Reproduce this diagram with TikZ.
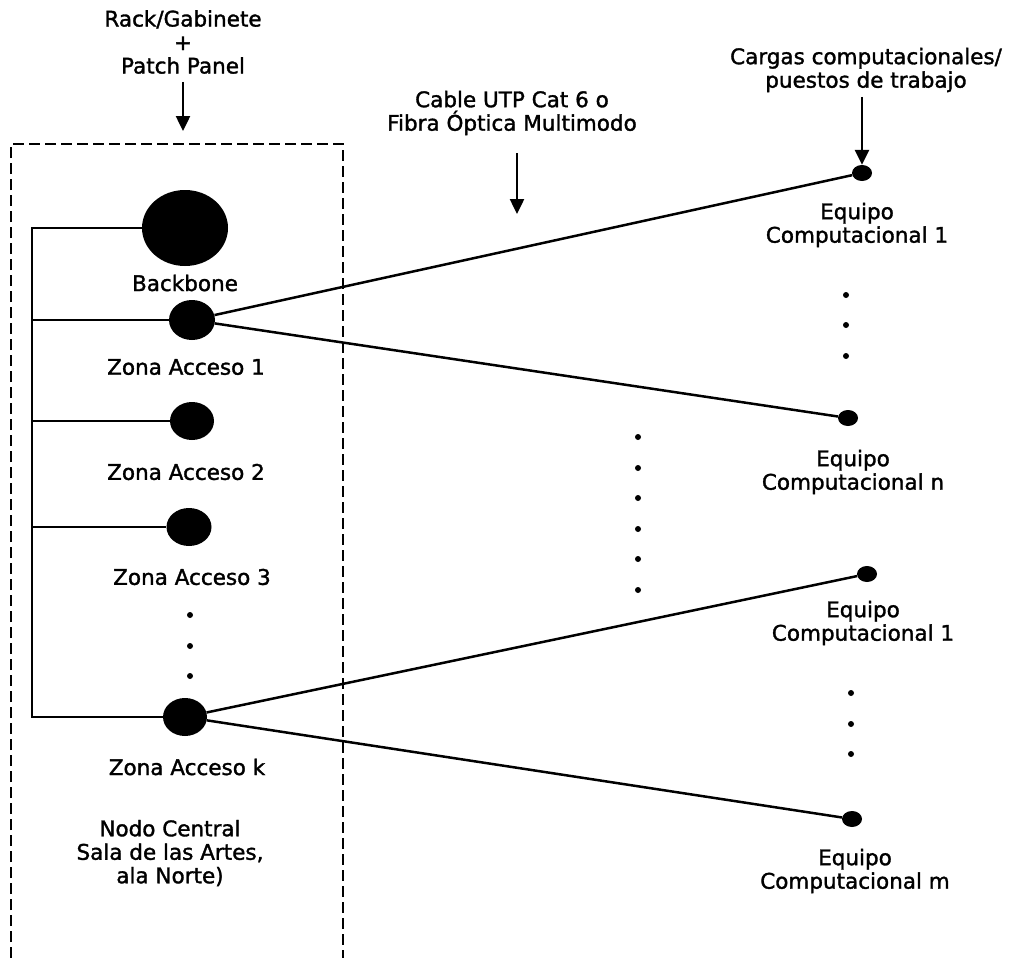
\documentclass[tikz,border=0pt]{standalone}
\usepackage{fontspec}
\setmainfont{DejaVu Sans}[FakeBold=1.5]
\usetikzlibrary{shapes.geometric,arrows.meta}
\begin{document}
\begin{tikzpicture}[x=1pt,y=-1pt,
  lbl/.style={align=center,inner sep=0pt,font=\fontsize{21.5}{23.5}\selectfont},
  wire/.style={line width=2.5pt},
  ptr/.style={line width=2.5pt,-{Triangle[width=14pt,length=15pt]}},
  hub/.style={ellipse,fill=black,draw=none,inner sep=0pt},
  pc/.style={ellipse,fill=black,draw=none,inner sep=0pt,minimum width=20pt,minimum height=16pt},
  dotmark/.style={circle,fill=black,draw=none,inner sep=0pt,minimum size=6pt},
  frame/.style={line width=2.2pt,dash pattern=on 11pt off 5pt}]
\useasboundingbox (0,0) rectangle (1010,958);

% top-left label and arrow
\node[lbl] (rack) at (183,42) {Rack/Gabinete\\+\\Patch Panel};
\coordinate (racktop) at (183,82);
\coordinate (racktip) at (183,131);
\draw[ptr] (racktop) -- (racktip);

% dashed frame
\coordinate (f1) at (11,958);
\coordinate (f2) at (11,144);
\coordinate (f3) at (343,144);
\coordinate (f4) at (343,958);
\draw[frame] (f1) -- (f2) -- (f3) -- (f4);

% hubs
\node[hub,minimum width=86pt,minimum height=76pt] (bb) at (185,228) {};
\node[hub,minimum width=46pt,minimum height=40pt] (za1) at (192,320) {};
\node[hub,minimum width=44pt,minimum height=38pt] (za2) at (192,421) {};
\node[hub,minimum width=45pt,minimum height=38pt] (za3) at (189,527) {};
\node[hub,minimum width=44pt,minimum height=38pt] (zak) at (185,717) {};

% bus
\coordinate (btop) at (32,228);
\coordinate (b1) at (32,320);
\coordinate (b2) at (32,421);
\coordinate (b3) at (32,527);
\coordinate (bk) at (32,717);
\draw[wire] (bb.west) -- (btop) -- (bk) -- (zak.west);
\draw[wire] (b1) -- (za1.west);
\draw[wire] (b2) -- (za2.west);
\draw[wire] (b3) -- (za3.west);

% left labels
\node[lbl] (lbb) at (185,283) {Backbone};
\node[lbl] (lza1) at (186,367) {Zona Acceso 1};
\node[lbl] (lza2) at (186,472) {Zona Acceso 2};
\node[lbl] (lza3) at (192,577) {Zona Acceso 3};
\node[lbl] (lzak) at (187,767) {Zona Acceso k};
\node[lbl] (lnodo) at (170,853) {Nodo Central\\Sala de las Artes,\\ala Norte)};

% left dots
\node[dotmark] (ld1) at (190,615) {};
\node[dotmark] (ld2) at (190,646) {};
\node[dotmark] (ld3) at (190,676) {};

% cable label
\node[lbl] (cable) at (512,113) {Cable UTP Cat 6 o\\Fibra Óptica Multimodo};
\coordinate (cabletop) at (517,153);
\coordinate (cabletip) at (517,214);
\draw[ptr] (cabletop) -- (cabletip);

% cargas label
\node[lbl] (cargas) at (866,70) {Cargas computacionales/\\puestos de trabajo};

% computers
\node[pc] (eq1) at (862,173) {};
\node[pc] (eqn) at (848,418) {};
\node[pc] (eq1b) at (867,574) {};
\node[pc] (eqm) at (852,819) {};
\coordinate (cargastop) at (862,97);
\draw[ptr] (cargastop) -- (eq1.north);

\node[lbl] (leq1) at (857,225) {Equipo\\Computacional 1};
\node[lbl] (leqn) at (853,472) {Equipo\\Computacional n};
\node[lbl] (leq1b) at (863,623) {Equipo\\Computacional 1};
\node[lbl] (leqm) at (855,871) {Equipo\\Computacional m};

% right dots
\node[dotmark] (r1) at (846,295) {};
\node[dotmark] (r2) at (846,325) {};
\node[dotmark] (r3) at (846,356) {};
\node[dotmark] (s1) at (851,693) {};
\node[dotmark] (s2) at (851,724) {};
\node[dotmark] (s3) at (851,754) {};

% middle dots
\node[dotmark] (m1) at (638,437) {};
\node[dotmark] (m2) at (638,468) {};
\node[dotmark] (m3) at (638,498) {};
\node[dotmark] (m4) at (638,529) {};
\node[dotmark] (m5) at (638,559) {};
\node[dotmark] (m6) at (638,590) {};

% links
\draw[wire] (za1) -- (eq1);
\draw[wire] (za1) -- (eqn);
\draw[wire] (zak) -- (eq1b);
\draw[wire] (zak) -- (eqm);
\end{tikzpicture}
\end{document}
